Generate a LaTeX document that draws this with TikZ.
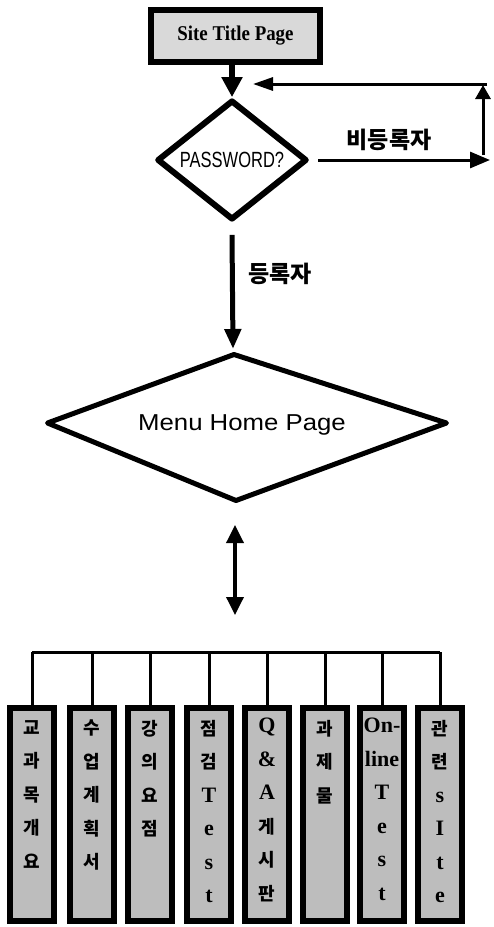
\documentclass[tikz,border=0pt]{standalone}
\usepackage{fontspec}
\usepackage{graphicx}
\setmainfont{Liberation Serif}
\newfontfamily\krfont{Noto Sans CJK KR}
\newfontfamily\sansfnt{Liberation Sans}
\newcommand\lt[1]{{\rmfamily\bfseries\fontsize{22}{33.5}\selectfont #1}}
\usetikzlibrary{arrows.meta,shapes.geometric}
\definecolor{boxgray}{gray}{0.74}
\definecolor{titlegray}{gray}{0.85}
\tikzset{
  colbox/.style={draw, line width=6pt, fill=boxgray, minimum width=44pt, minimum height=213pt, inner sep=0pt},
  boxtxt/.style={font=\krfont\bfseries\fontsize{18}{33.5}\selectfont, align=center, inner sep=0pt, anchor=north},
  lbl/.style={font=\krfont\bfseries\fontsize{23}{26}\selectfont, inner sep=0pt},
  heavyarrow/.style={line width=6pt, -{Triangle[length=20pt,width=20pt]}},
  midarrow/.style={line width=5pt, -{Triangle[length=20pt,width=16pt]}},
  conn/.style={line width=3pt},
}
\begin{document}
\begin{tikzpicture}[x=1pt,y=-1pt]
\useasboundingbox (0,0) rectangle (494,927);

% title
\node[draw, line width=6pt, fill=titlegray, minimum width=169pt, minimum height=52pt, inner sep=0pt,
      font=\bfseries\fontsize{21}{24}\selectfont] (st) at (235.5,36) {\scalebox{0.9}[1]{Site Title Page}};

% password diamond
\node[diamond, draw, line width=6pt, line join=round, minimum width=150pt, minimum height=99pt, inner sep=0pt,
      font=\sansfnt\fontsize{22}{24}\selectfont] (pw) at (232,160) {\scalebox{0.75}[1]{PASSWORD?}};

\draw[heavyarrow] (pw.north |- st.south) -- (pw.north);

% loop for non-registered
\coordinate (rc1) at (490,160);
\coordinate (rc2) at (483,155);
\coordinate (rc3) at (483,85);
\coordinate (rc4) at (487,84);
\coordinate (rc5) at (253,84);
\draw[conn, -{Triangle[length=20pt,width=16pt]}] ([xshift=8pt]pw.east) -- (rc1);
\draw[conn, -{Triangle[length=14pt,width=15pt]}] (rc2) -- (rc3);
\draw[conn, -{Triangle[length=20pt,width=13pt]}] (rc4) -- (rc5);
\node[lbl] (nr) at (389,139.5) {비등록자};

% menu diamond
\coordinate (mtop) at (234,354.5);
\coordinate (mright) at (446.5,423);
\coordinate (mbot) at (236,500.5);
\coordinate (mleft) at (47.5,423);
\draw[line width=5pt, line join=round] (mtop) -- (mright) -- (mbot) -- (mleft) -- cycle;
\node[font=\sansfnt\fontsize{23}{26}\selectfont, inner sep=0pt] (mh) at (242,425) {\scalebox{1.12}[1]{Menu Home Page}};

\coordinate (ma) at (233,349);
\draw[midarrow] ([yshift=-12pt]pw.south) -- (ma);
\node[lbl] (rg) at (280,273.5) {등록자};

% double arrow
\coordinate (d1) at (235,525);
\coordinate (d2) at (235,615);
\draw[line width=3.5pt, {Triangle[length=18pt,width=17pt]}-{Triangle[length=18pt,width=17pt]}] (d1) -- (d2);

% bus
\coordinate (busL) at (32,652);
\coordinate (busR) at (440,652);
\draw[conn] (busL) -- (busR);

% boxes
\node[colbox] (b1) at (32,814.5) {};
\node[colbox] (b2) at (92,814.5) {};
\node[colbox] (b3) at (150,814.5) {};
\node[colbox] (b4) at (209,814.5) {};
\node[colbox] (b5) at (267,814.5) {};
\node[colbox] (b6) at (325,814.5) {};
\node[colbox] (b7) at (382,814.5) {};
\node[colbox] (b8) at (440,814.5) {};
\foreach \i in {1,...,8} { \draw[conn] (b\i.north) -- (b\i.north |- busL); }

\node[boxtxt] (t1) at (32,720) {교\\과\\목\\개\\요};
\node[boxtxt] (t2) at (92,720) {수\\업\\계\\획\\서};
\node[boxtxt] (t3) at (150,720) {강\\의\\요\\점};
\node[boxtxt] (t4) at (209,720) {점\\검\\\lt{T}\\\lt{e}\\\lt{s}\\\lt{t}};
\node[boxtxt] (t5) at (267,718) {\lt{Q}\\\lt{\&}\\\lt{A}\\게\\시\\판};
\node[boxtxt] (t6) at (325,720) {과\\제\\물};
\node[boxtxt] (t7) at (382,718) {\lt{On-}\\\lt{line}\\\lt{T}\\\lt{e}\\\lt{s}\\\lt{t}};
\node[boxtxt] (t8) at (440,720) {관\\련\\\lt{s}\\\lt{I}\\\lt{t}\\\lt{e}};
\end{tikzpicture}
\end{document}
